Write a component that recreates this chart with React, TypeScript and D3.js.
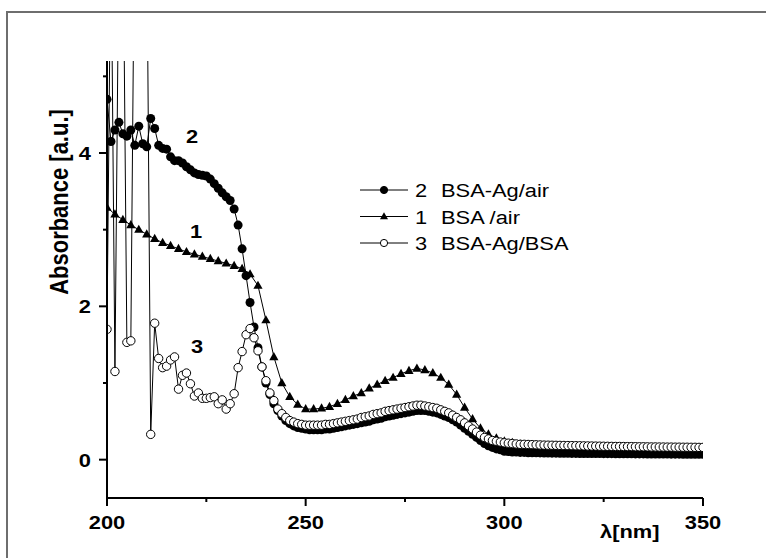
import React, { useEffect, useRef } from 'react';
import * as d3 from 'd3';

const W = 766;
const H = 558;

// wavelength grids (nm)
const wlFine = d3.range(200, 351, 1);
const wlCoarse = d3.range(200, 351, 2);

// 1  BSA /air  (2 nm step)
const bsaAir = [
  3.29, 3.2, 3.13, 3.06, 3.0, 2.94, 2.88, 2.83, 2.79, 2.75,
  2.71, 2.68, 2.65, 2.62, 2.59, 2.56, 2.53, 2.49, 2.42, 2.27,
  1.82, 1.34, 1.0, 0.82, 0.72, 0.66, 0.66, 0.67, 0.69, 0.73,
  0.78, 0.83, 0.87, 0.93, 0.98, 1.03, 1.07, 1.12, 1.16, 1.19,
  1.17, 1.13, 1.07, 0.98, 0.85, 0.68, 0.53, 0.41, 0.33, 0.28,
  0.24, 0.22, 0.2, 0.19, 0.18, 0.17, 0.165, 0.16, 0.155, 0.15,
  0.15, 0.145, 0.14, 0.14, 0.14, 0.135, 0.135, 0.13, 0.13, 0.13,
  0.13, 0.125, 0.125, 0.125, 0.12, 0.12,
];

// 2  BSA-Ag/air  (1 nm step)
const bsaAgAir = [
  4.7, 4.15, 4.3, 4.4, 4.25, 4.22, 4.3, 4.1, 4.35, 4.12,
  4.08, 4.45, 4.32, 4.1, 4.06, 4.05, 3.95, 3.9, 3.9, 3.87,
  3.82, 3.78, 3.74, 3.72, 3.71, 3.7, 3.66, 3.6, 3.54, 3.48,
  3.43, 3.38, 3.27, 3.06, 2.75, 2.4, 2.05, 1.73, 1.46, 1.21,
  1.0, 0.85, 0.73, 0.64, 0.57, 0.51, 0.47, 0.44, 0.42, 0.41,
  0.4, 0.39, 0.39, 0.39, 0.39, 0.4, 0.4, 0.41, 0.42, 0.43,
  0.44, 0.45, 0.46, 0.47, 0.48, 0.49, 0.5, 0.52, 0.53, 0.54,
  0.56, 0.57, 0.58, 0.59, 0.6, 0.61, 0.62, 0.63, 0.64, 0.64,
  0.64, 0.63, 0.62, 0.61, 0.59, 0.57, 0.55, 0.52, 0.49, 0.45,
  0.41, 0.37, 0.33, 0.29, 0.25, 0.21, 0.18, 0.16, 0.14, 0.13,
  0.11, 0.105, 0.1, 0.1, 0.095, 0.095, 0.09, 0.09, 0.09, 0.088,
  0.087, 0.086, 0.085, 0.085, 0.084, 0.083, 0.083, 0.082, 0.082, 0.081,
  0.08, 0.08, 0.08, 0.079, 0.079, 0.078, 0.078, 0.078, 0.077, 0.077,
  0.076, 0.076, 0.076, 0.075, 0.075, 0.075, 0.074, 0.074, 0.074, 0.073,
  0.073, 0.073, 0.072, 0.072, 0.072, 0.071, 0.071, 0.071, 0.07, 0.07,
  0.07,
];

// 3  BSA-Ag/BSA  (1 nm step)
const bsaAgBsa = [
  1.7, 7.0, 1.15, 6.8, 7.2, 1.53, 1.55, 7.5, 6.0, 7.8,
  7.0, 0.33, 1.78, 1.32, 1.2, 1.22, 1.3, 1.34, 0.92, 1.1,
  1.13, 0.99, 0.83, 0.87, 0.8, 0.8, 0.81, 0.82, 0.73, 0.78,
  0.66, 0.73, 0.86, 1.2, 1.41, 1.63, 1.71, 1.59, 1.42, 1.21,
  1.03, 0.87, 0.77, 0.66, 0.6, 0.55, 0.51, 0.49, 0.47, 0.46,
  0.45, 0.45, 0.45, 0.45, 0.45, 0.46, 0.46, 0.47, 0.48, 0.49,
  0.5, 0.51, 0.52, 0.53, 0.55, 0.56, 0.57, 0.59, 0.6, 0.61,
  0.63, 0.64, 0.65, 0.66, 0.67, 0.68, 0.69, 0.7, 0.71, 0.71,
  0.7, 0.69, 0.68, 0.67, 0.65, 0.63, 0.61, 0.58, 0.55, 0.52,
  0.48, 0.44, 0.4, 0.36, 0.32, 0.29, 0.27, 0.25, 0.24, 0.23,
  0.22, 0.215, 0.21, 0.205, 0.2, 0.2, 0.198, 0.196, 0.194, 0.192,
  0.19, 0.189, 0.188, 0.187, 0.186, 0.185, 0.184, 0.183, 0.182, 0.181,
  0.18, 0.179, 0.178, 0.177, 0.176, 0.175, 0.174, 0.173, 0.172, 0.172,
  0.171, 0.17, 0.17, 0.169, 0.168, 0.168, 0.167, 0.166, 0.166, 0.165,
  0.165, 0.164, 0.164, 0.163, 0.163, 0.162, 0.162, 0.161, 0.161, 0.16,
  0.16,
];

const xTicks = [200, 250, 300, 350];
const xMinor = [225, 275, 325];
const yTicks = [0, 2, 4];
const yMinor = [1, 3, 5];

const legendItems = [
  { num: '2', label: 'BSA-Ag/air', marker: 'dot' },
  { num: '1', label: 'BSA /air', marker: 'tri' },
  { num: '3', label: 'BSA-Ag/BSA', marker: 'ring' },
];

const FONT = '"Liberation Sans", Arial, Helvetica, sans-serif';
const SX = 1.15; // the original picture is a bit stretched sideways

const App = () => {
  const ref = useRef<HTMLDivElement>(null);

  useEffect(() => {
    if (!ref.current) return;
    d3.select(ref.current).selectAll('*').remove();

    const svg = d3.select(ref.current)
      .append('svg')
      .attr('width', W)
      .attr('height', H)
      .style('display', 'block')
      .style('background', '#fff');

    const left = 107, right = 703, top = 61, bottom = 498;
    const x = d3.scaleLinear().domain([200, 350]).range([left, right]);
    const y = d3.scaleLinear().domain([-0.5, 5.2]).range([bottom, top]);

    // outer frame
    svg.append('path')
      .attr('d', `M7,${H + 2} V12 H${W + 2}`)
      .attr('fill', 'none')
      .attr('stroke', '#6e6e6e')
      .attr('stroke-width', 2);

    const text = (g, tx, ty, str, size, weight, anchor) =>
      g.append('text')
        .attr('transform', `translate(${tx},${ty}) scale(${SX},1)`)
        .attr('font-family', FONT)
        .attr('font-size', size)
        .attr('font-weight', weight)
        .attr('text-anchor', anchor)
        .attr('fill', '#000')
        .text(str);

    svg.append('defs').append('clipPath').attr('id', 'plotclip')
      .append('rect')
      .attr('x', left).attr('y', top)
      .attr('width', right - left).attr('height', bottom - top);

    const plot = svg.append('g').attr('clip-path', 'url(#plotclip)');

    const line = d3.line<[number, number]>()
      .x(d => x(d[0]))
      .y(d => y(d[1]));

    const tri = 'M0,-5L4.6,3.2L-4.6,3.2Z';

    const drawSeries = (wl, vals, marker) => {
      const pts = wl.map((w, i) => [w, vals[i]] as [number, number]);
      const g = plot.append('g');
      g.append('path')
        .attr('d', line(pts))
        .attr('fill', 'none')
        .attr('stroke', '#000')
        .attr('stroke-width', 1);
      if (marker === 'tri') {
        g.selectAll('path.m').data(pts).enter().append('path')
          .attr('class', 'm')
          .attr('d', tri)
          .attr('transform', d => `translate(${x(d[0])},${y(d[1])})`)
          .attr('fill', '#000');
      } else {
        g.selectAll('circle').data(pts).enter().append('circle')
          .attr('cx', d => x(d[0]))
          .attr('cy', d => y(d[1]))
          .attr('r', marker === 'dot' ? 4.5 : 4.2)
          .attr('fill', marker === 'dot' ? '#000' : '#fff')
          .attr('stroke', '#000')
          .attr('stroke-width', marker === 'dot' ? 0 : 1);
      }
    };

    drawSeries(wlFine, bsaAgAir, 'dot');
    drawSeries(wlCoarse, bsaAir, 'tri');
    drawSeries(wlFine, bsaAgBsa, 'ring');

    // axes
    const axes = svg.append('g').attr('stroke', '#000');
    axes.append('line').attr('x1', left).attr('x2', left).attr('y1', top).attr('y2', bottom + 1).attr('stroke-width', 2);
    axes.append('line').attr('x1', left - 1).attr('x2', right).attr('y1', bottom).attr('y2', bottom).attr('stroke-width', 2);

    xTicks.forEach(t => {
      axes.append('line').attr('x1', x(t)).attr('x2', x(t)).attr('y1', bottom).attr('y2', bottom + 8).attr('stroke-width', 2);
      text(svg, x(t), 529, String(t), 19, 'bold', 'middle');
    });
    xMinor.forEach(t => {
      axes.append('line').attr('x1', x(t)).attr('x2', x(t)).attr('y1', bottom).attr('y2', bottom + 4).attr('stroke-width', 2);
    });
    yTicks.forEach(t => {
      axes.append('line').attr('x1', left - 8).attr('x2', left).attr('y1', y(t)).attr('y2', y(t)).attr('stroke-width', 2);
      text(svg, 91, y(t) + 7, String(t), 19, 'bold', 'end');
    });
    yMinor.forEach(t => {
      axes.append('line').attr('x1', left - 4).attr('x2', left).attr('y1', y(t)).attr('y2', y(t)).attr('stroke-width', 2);
    });

    // axis titles
    svg.append('text')
      .attr('transform', `translate(68,202) scale(${SX},1) rotate(-90)`)
      .attr('font-family', FONT)
      .attr('font-size', 22)
      .attr('font-weight', 'bold')
      .attr('text-anchor', 'middle')
      .text('Absorbance [a.u.]');
    text(svg, 600, 538, 'λ[nm]', 19, 'bold', 'start');

    // curve numbers
    text(svg, 186, 143, '2', 19, 'bold', 'start');
    text(svg, 190, 238, '1', 19, 'bold', 'start');
    text(svg, 191, 353, '3', 19, 'bold', 'start');

    // legend
    legendItems.forEach((d, i) => {
      const by = 197 + i * 26.5;
      const cy = by - 7;
      const g = svg.append('g');
      g.append('line').attr('x1', 360).attr('x2', 408).attr('y1', cy).attr('y2', cy)
        .attr('stroke', '#000').attr('stroke-width', 1);
      if (d.marker === 'tri') {
        g.append('path').attr('d', 'M0,-4.2L4,2.8L-4,2.8Z')
          .attr('transform', `translate(384,${cy})`).attr('fill', '#000');
      } else {
        g.append('circle').attr('cx', 384).attr('cy', cy).attr('r', 3.6)
          .attr('fill', d.marker === 'dot' ? '#000' : '#fff')
          .attr('stroke', '#000').attr('stroke-width', 1);
      }
      text(svg, 415, by, d.num, 19, 'normal', 'start');
      text(svg, 441, by, d.label, 19, 'normal', 'start');
    });
  }, []);

  return (
    <div
      ref={ref}
      style={{ position: 'absolute', top: 0, left: 0, width: W, height: H }}
    />
  );
};

export default App;
